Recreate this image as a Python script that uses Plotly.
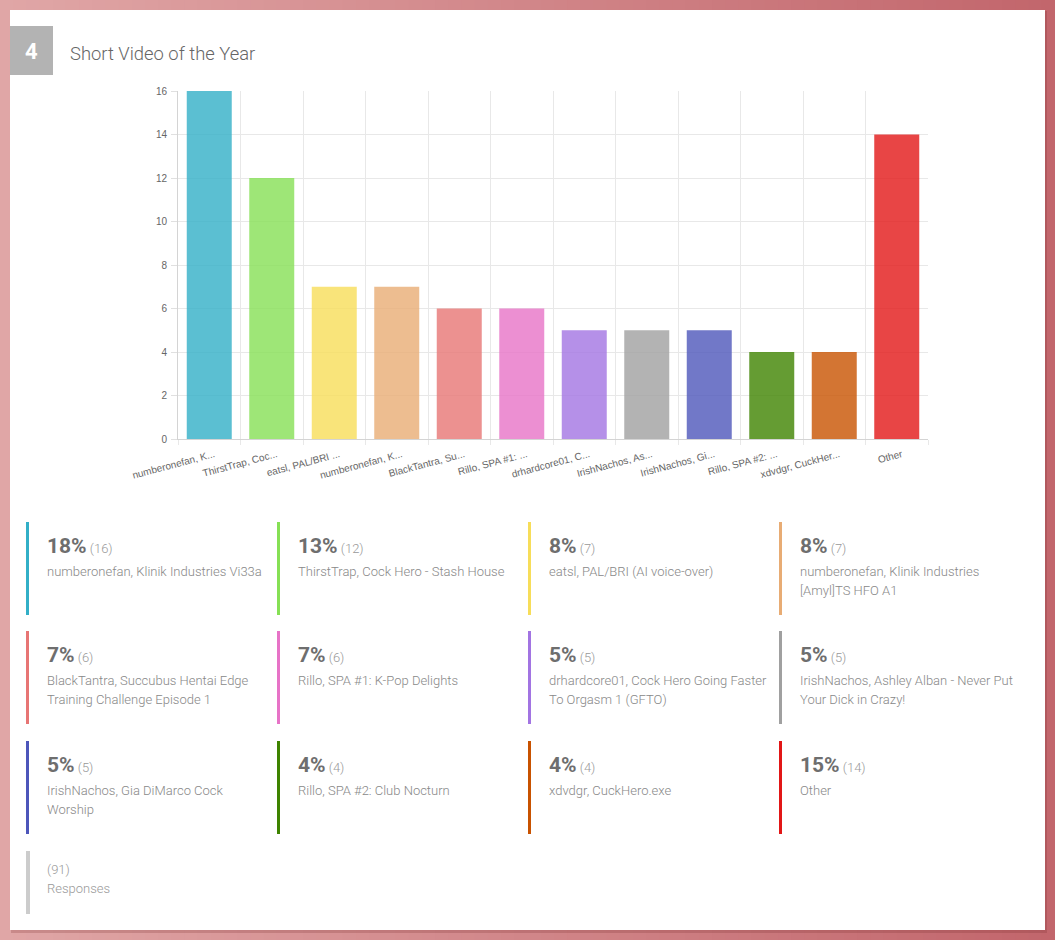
import plotly.graph_objects as go

# ---------------- data ----------------
names = [
    "numberonefan, Klinik Industries Vi33a",
    "ThirstTrap, Cock Hero - Stash House",
    "eatsl, PAL/BRI (AI voice-over)",
    "numberonefan, Klinik Industries [Amyl]TS HFO A1",
    "BlackTantra, Succubus Hentai Edge Training Challenge Episode 1",
    "Rillo, SPA #1: K-Pop Delights",
    "drhardcore01, Cock Hero Going Faster To Orgasm 1 (GFTO)",
    "IrishNachos, Ashley Alban - Never Put Your Dick in Crazy!",
    "IrishNachos, Gia DiMarco Cock Worship",
    "Rillo, SPA #2: Club Nocturn",
    "xdvdgr, CuckHero.exe",
    "Other",
]
votes = [16, 12, 7, 7, 6, 6, 5, 5, 5, 4, 4, 14]
total_responses = 91
y_ticks = [0, 2, 4, 6, 8, 10, 12, 14, 16]

# legend text, wrapped as in the original
legend_lines = [
    ["numberonefan, Klinik Industries Vi33a"],
    ["ThirstTrap, Cock Hero - Stash House"],
    ["eatsl, PAL/BRI (AI voice-over)"],
    ["numberonefan, Klinik Industries", "[Amyl]TS HFO A1"],
    ["BlackTantra, Succubus Hentai Edge", "Training Challenge Episode 1"],
    ["Rillo, SPA #1: K-Pop Delights"],
    ["drhardcore01, Cock Hero Going Faster", "To Orgasm 1 (GFTO)"],
    ["IrishNachos, Ashley Alban - Never Put", "Your Dick in Crazy!"],
    ["IrishNachos, Gia DiMarco Cock", "Worship"],
    ["Rillo, SPA #2: Club Nocturn"],
    ["xdvdgr, CuckHero.exe"],
    ["Other"],
]

colors = ["#32afc7", "#86e055", "#f7dd59", "#e8ac74", "#e77574", "#e773c7",
          "#a274e2", "#a0a0a0", "#4d56ba", "#3e8300", "#c85200", "#e21616"]

tick_labels = [n if len(n) <= 15 else n[:15] + "..." for n in names]

W, H = 1055, 940
def X(px): return px / W
def Y(py): return 1 - py / H

fig = go.Figure()
fig.add_trace(go.Bar(
    x=list(range(len(votes))), y=votes,
    marker=dict(color=colors, opacity=0.8, line=dict(width=0)),
    width=0.72, hoverinfo="y",
))

shapes = []
# background gradient
c0 = (224, 166, 166)
c1 = (194, 102, 108)
N = 80
for i in range(N):
    t = i / (N - 1)
    c = tuple(round(c0[k] + (c1[k] - c0[k]) * t) for k in range(3))
    shapes.append(dict(type="rect", xref="paper", yref="paper", layer="below",
                       x0=i / N, x1=(i + 1) / N + 0.002, y0=0, y1=1,
                       fillcolor="rgb(%d,%d,%d)" % c, line=dict(width=0)))
# card shadow + card
shapes.append(dict(type="rect", xref="paper", yref="paper", layer="below",
                   x0=X(11), x1=X(1047), y0=Y(933), y1=Y(11),
                   fillcolor="rgba(120,40,40,0.22)", line=dict(width=0)))
shapes.append(dict(type="rect", xref="paper", yref="paper", layer="below",
                   x0=X(10), x1=X(1045), y0=Y(930), y1=Y(10),
                   fillcolor="white", line=dict(width=0)))
# number badge
shapes.append(dict(type="rect", xref="paper", yref="paper", layer="below",
                   x0=X(10), x1=X(53), y0=Y(75), y1=Y(26),
                   fillcolor="#b3b3b3", line=dict(width=0)))

annotations = [
    dict(text="<b>4</b>", x=X(31.5), y=Y(51), xref="paper", yref="paper",
         showarrow=False, xanchor="center", yanchor="middle",
         font=dict(family="Roboto", size=22, color="white")),
    dict(text="Short Video of the Year", x=X(68), y=Y(53), xref="paper", yref="paper",
         showarrow=False, xanchor="left", yanchor="middle",
         font=dict(family="Roboto", size=18.4, color="#666666", weight=300)),
]

# legend cards
col_x = [26, 277, 528, 779]
row_y = [522, 631, 741, 851]
card_h = 93
for i, (v, lines, c) in enumerate(zip(votes, legend_lines, colors)):
    r, k = divmod(i, 4)
    x0, y0 = col_x[k], row_y[r]
    shapes.append(dict(type="rect", xref="paper", yref="paper", layer="below",
                       x0=X(x0), x1=X(x0 + 3), y0=Y(y0 + card_h), y1=Y(y0),
                       fillcolor=c, line=dict(width=0)))
    pct = round(100 * v / total_responses)
    annotations.append(dict(
        text="<b>%d%%</b><span style='font-size:13px;color:#999999;font-weight:300'> (%d)</span>" % (pct, v),
        x=X(x0 + 19), y=Y(y0 + 24), xref="paper", yref="paper", showarrow=False,
        xanchor="left", yanchor="middle",
        font=dict(family="Roboto", size=21, color="#6e6e6e")))
    for j, ln in enumerate(lines):
        annotations.append(dict(
            text=ln, x=X(x0 + 19), y=Y(y0 + 49 + 19 * j), xref="paper", yref="paper",
            showarrow=False, xanchor="left", yanchor="middle",
            font=dict(family="Roboto", size=13, color="#888888", weight=300)))

# responses card
x0, y0 = col_x[0], row_y[3]
shapes.append(dict(type="rect", xref="paper", yref="paper", layer="below",
                   x0=X(x0), x1=X(x0 + 4), y0=Y(y0 + 63), y1=Y(y0),
                   fillcolor="#cccccc", line=dict(width=0)))
annotations.append(dict(text="(%d)" % total_responses, x=X(x0 + 19), y=Y(y0 + 18),
                        xref="paper", yref="paper", showarrow=False,
                        xanchor="left", yanchor="middle",
                        font=dict(family="Roboto", size=13, color="#999999", weight=300)))
annotations.append(dict(text="Responses", x=X(x0 + 19), y=Y(y0 + 37),
                        xref="paper", yref="paper", showarrow=False,
                        xanchor="left", yanchor="middle",
                        font=dict(family="Roboto", size=13, color="#999999", weight=300)))

fig.update_layout(
    width=W, height=H,
    margin=dict(l=0, r=0, t=0, b=0, autoexpand=False),
    paper_bgcolor="rgb(210,134,137)",
    plot_bgcolor="rgba(0,0,0,0)",
    showlegend=False,
    shapes=shapes,
    annotations=annotations,
    bargap=0.28,
    xaxis=dict(
        domain=[X(178), X(928)],
        range=[-0.5, len(votes) - 0.5],
        tickmode="array", tickvals=list(range(len(votes))), ticktext=tick_labels,
        tickangle=-15, ticks="", showgrid=False, zeroline=False,
        showline=True, linecolor="#d4d4d4", linewidth=1,
        tickfont=dict(family="Liberation Sans", size=10, color="#666666"),
        ticklabelshift=5, ticklabelstandoff=5,
        minor=dict(tickmode="linear", tick0=-0.5, dtick=1, showgrid=True,
                   gridcolor="#e8e8e8", gridwidth=1, ticks="outside",
                   ticklen=5, tickcolor="#e8e8e8"),
        automargin=False,
        fixedrange=True,
    ),
    yaxis=dict(
        domain=[Y(439), Y(91)],
        range=[0, 16],
        tickmode="array", tickvals=y_ticks,
        ticks="outside", ticklen=6, tickcolor="#e0e0e0",
        showgrid=True, gridcolor="#e8e8e8", gridwidth=1, zeroline=False,
        showline=True, linecolor="#d4d4d4", linewidth=1,
        tickfont=dict(family="Liberation Sans", size=10, color="#666666"),
        ticklabelstandoff=2,
        automargin=False,
        fixedrange=True,
    ),
)

fig.write_html("out.html")
